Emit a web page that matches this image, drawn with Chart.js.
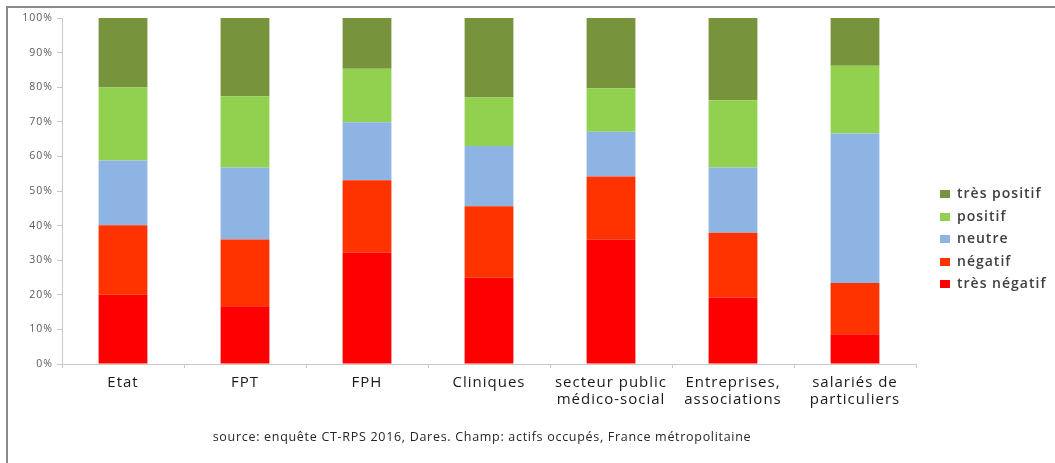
<!DOCTYPE html>
<html>
<head>
<meta charset="utf-8">
<script src="https://cdn.jsdelivr.net/npm/chart.js@4/dist/chart.umd.min.js"></script>
<style>
  html, body { margin: 0; padding: 0; background: #fff; }
  #wrap { position: relative; width: 1055px; height: 463px; overflow: hidden; }
  #frame { position: absolute; left: 6px; top: 6px; width: 1060px; height: 470px;
           border-top: 2px solid #8a8a8a; border-left: 2px solid #8a8a8a; box-sizing: border-box; }
  canvas { position: absolute; left: 0; top: 0; }
  #legend { position: absolute; left: 940px; top: 183px; font-family: "Open Sans", sans-serif;
            font-size: 14px; font-weight: 600; color: #404040; letter-spacing: 1px; }
  #legend .item { height: 22.5px; line-height: 19px; white-space: nowrap; }
  #legend .sw { display: inline-block; width: 10px; height: 8px; margin-right: 7px; vertical-align: 0px; }
  #source { position: absolute; left: 0; width: 964px; top: 428px; text-align: center;
            font-family: "Open Sans", sans-serif; font-size: 12.5px; color: #262626; letter-spacing: 0.7px; }
</style>
</head>
<body>
<div id="wrap">
  <canvas id="c" width="1055" height="463"></canvas>
  <div id="frame"></div>
  <div id="legend"></div>
  <div id="source">source: enquête CT-RPS 2016, Dares. Champ: actifs occupés, France métropolitaine</div>
</div>
<script>
const categories = [
  "Etat", "FPT", "FPH", "Cliniques",
  ["secteur public", "médico-social"],
  ["Entreprises,", "associations"],
  ["salariés de", "particuliers"]
];
const seriesNames = ["très négatif", "négatif", "neutre", "positif", "très positif"];
const seriesColors = ["#FF0000", "#FF3300", "#8EB4E3", "#92D050", "#77933C"];
const tresNegatif = [20.0, 16.7, 32.2, 24.9, 36.0, 19.2, 8.6];
const negatif     = [20.1, 19.3, 20.9, 20.7, 18.2, 18.7, 14.8];
const neutre      = [18.7, 20.8, 16.8, 17.4, 12.9, 18.9, 43.2];
const positif     = [21.1, 20.6, 15.4, 14.0, 12.6, 19.4, 19.6];
const tresPositif = [20.1, 22.6, 14.7, 23.0, 20.3, 23.8, 13.8];
const yTickValues = [0, 10, 20, 30, 40, 50, 60, 70, 80, 90, 100];

const seriesData = [tresNegatif, negatif, neutre, positif, tresPositif];

const datasets = seriesNames.map((n, i) => ({
  label: n,
  data: seriesData[i],
  backgroundColor: seriesColors[i],
  borderWidth: 0,
  categoryPercentage: 1.0,
  barPercentage: 0.4
}));

const spacingPlugin = {
  id: "spacing",
  beforeUpdate: c => { c.ctx.letterSpacing = "1px"; },
  beforeDraw: c => { c.ctx.letterSpacing = "1px"; }
};

new Chart(document.getElementById("c"), {
  type: "bar",
  data: { labels: categories, datasets },
  plugins: [spacingPlugin],
  options: {
    responsive: false,
    animation: false,
    layout: { padding: { left: 0, top: 18, right: 139, bottom: 0 } },
    plugins: { legend: { display: false }, tooltip: { enabled: false } },
    scales: {
      x: {
        stacked: true,
        offset: true,
        grid: { offset: true, drawOnChartArea: false, drawTicks: true, tickLength: 4, color: "#c8c8c8" },
        border: { display: true, color: "#c8c8c8", width: 1 },
        ticks: { color: "#1a1a1a", font: { family: "Open Sans", size: 15, lineHeight: 1.15 }, padding: 6, maxRotation: 0, autoSkip: false },
        afterFit: s => { s.height = 99; }
      },
      y: {
        stacked: true,
        min: 0, max: 100,
        afterBuildTicks: s => { s.ticks = yTickValues.map(v => ({ value: v })); },
        grid: { drawOnChartArea: false, drawTicks: true, tickLength: 5, color: "#c8c8c8" },
        border: { display: true, color: "#c8c8c8", width: 1 },
        ticks: { color: "#595959", font: { family: "Open Sans", size: 10.5 }, padding: 4, callback: v => v + "%" },
        afterFit: s => { s.width = 62; }
      }
    }
  }
});

const legendEl = document.getElementById("legend");
for (let i = seriesNames.length - 1; i >= 0; i--) {
  const d = document.createElement("div");
  d.className = "item";
  d.innerHTML = '<span class="sw" style="background:' + seriesColors[i] + '"></span>' + seriesNames[i];
  legendEl.appendChild(d);
}
</script>
</body>
</html>
